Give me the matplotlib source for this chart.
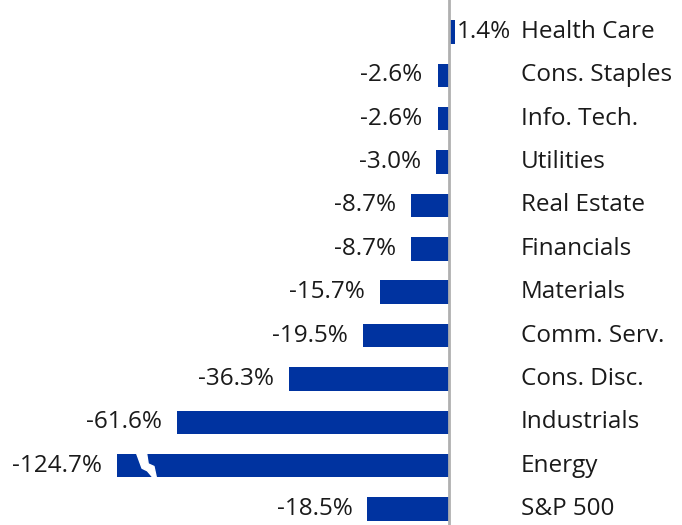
import numpy as np
import matplotlib.pyplot as plt
from matplotlib.patches import Polygon

# Données (rendement par secteur, %)
secteurs = ["Health Care", "Cons. Staples", "Info. Tech.", "Utilities", "Real Estate",
            "Financials", "Materials", "Comm. Serv.", "Cons. Disc.", "Industrials",
            "Energy", "S&P 500"]
valeurs = [1.4, -2.6, -2.6, -3.0, -8.7, -8.7, -15.7, -19.5, -36.3, -61.6, -124.7, -18.5]
etiquettes = ["1.4%", "-2.6%", "-2.6%", "-3.0%", "-8.7%", "-8.7%", "-15.7%", "-19.5%",
              "-36.3%", "-61.6%", "-124.7%", "-18.5%"]

coupure = -75.3  # longueur affichée de la barre tronquée (Energy)
bleu = "#0033a0"

plt.rcParams['font.family'] = ['Open Sans', 'DejaVu Sans']

fig = plt.figure(figsize=(6.82, 5.25), dpi=100)
ax = fig.add_axes([0, 0, 1, 1])

y = np.arange(len(secteurs))
affiche = [max(v, coupure) for v in valeurs]
ax.barh(y, affiche, height=0.54, color=bleu, zorder=2)

ax.axvline(0, color="#b0b0b0", lw=2, zorder=3)

fs = 17.5
for i, (v, a, lab) in enumerate(zip(valeurs, affiche, etiquettes)):
    if v >= 0:
        ax.text(a + 0.3, i, lab, ha="left", va="center", fontsize=fs, color="#1a1a1a")
    else:
        ax.text(a - 3.4, i, lab, ha="right", va="center", fontsize=fs, color="#1a1a1a")
    ax.text(16.3, i, secteurs[i], ha="left", va="center", fontsize=fs, color="#1a1a1a")

# zigzag de coupure sur la barre Energy
ie = secteurs.index("Energy")
h = 0.3
zig = [(-70.9, ie - h), (-68.6, ie - h), (-68.2, ie - 0.04), (-66.9, ie + 0.02),
       (-66.3, ie + h), (-66.9, ie + h), (-68.4, ie + 0.12), (-69.6, ie + 0.06)]
ax.add_patch(Polygon(zig, closed=True, color="white", zorder=4))

ax.set_xlim(-101.8, 52.8)
ax.set_ylim(11.37, -0.74)
ax.axis("off")

fig.savefig("out.png", dpi=100)
